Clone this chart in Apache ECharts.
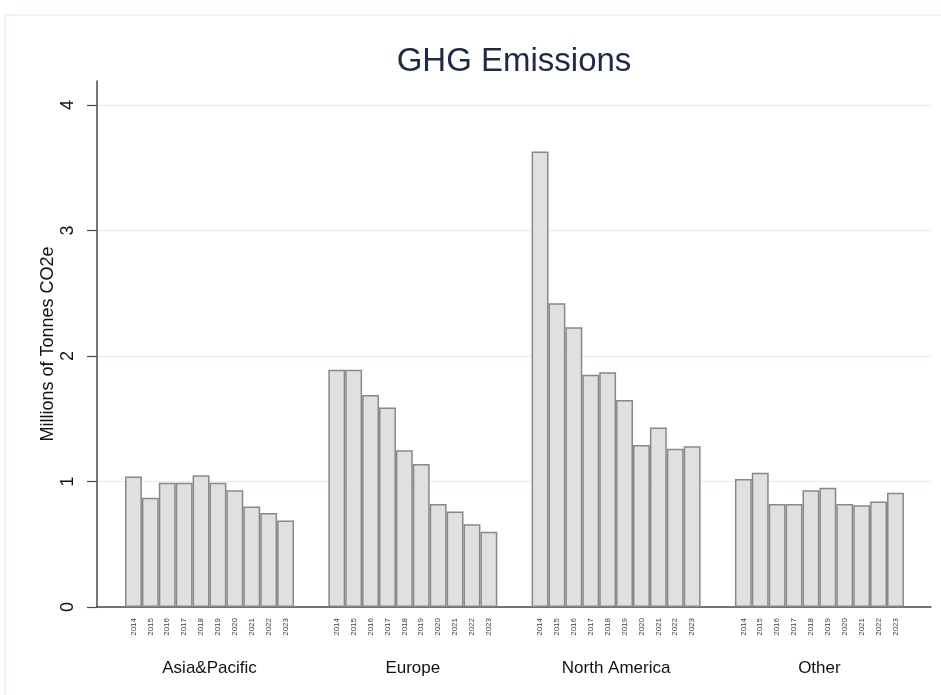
<!DOCTYPE html>
<html>
<head>
<meta charset="utf-8">
<script src="https://cdn.jsdelivr.net/npm/echarts@6/dist/echarts.min.js"></script>
<style>
html,body{margin:0;padding:0;background:#fff;}
#chart{width:941px;height:695px;}
</style>
</head>
<body>
<div id="chart"></div>
<script>
// ---- data ----
var years = ['2014','2015','2016','2017','2018','2019','2020','2021','2022','2023'];
var groups = ['Asia&Pacific','Europe','North America','Other'];
var asiaPacific  = [1.04, 0.87, 0.99, 0.99, 1.05, 0.99, 0.93, 0.80, 0.75, 0.69];
var europe       = [1.89, 1.89, 1.69, 1.59, 1.25, 1.14, 0.82, 0.76, 0.66, 0.60];
var northAmerica = [3.63, 2.42, 2.23, 1.85, 1.87, 1.65, 1.29, 1.43, 1.26, 1.28];
var other        = [1.02, 1.07, 0.82, 0.82, 0.93, 0.95, 0.82, 0.81, 0.84, 0.91];
var yTicks = [0, 1, 2, 3, 4];
var titleText = 'GHG Emissions';
var yAxisTitle = 'Millions of Tonnes CO2e';

var groupValues = [asiaPacific, europe, northAmerica, other];

// ---- layout ----
var FONT = '"Liberation Sans", Arial, sans-serif';
var plotLeft = 97, plotRight = 10, plotTop = 105, plotBottom = 88, axisTop = 81;
var groupStart = 125, groupStep = 203.3, groupWidth = 169;

var grids = [
  {left: plotLeft, right: plotRight, top: plotTop, bottom: plotBottom},
  {left: plotLeft, right: plotRight, top: axisTop, bottom: plotBottom}
];
var xAxes = [
  {gridIndex: 0, type: 'category', data: [''], axisLine: {show: true, lineStyle: {color: '#4a4a4a', width: 1.5}},
   axisTick: {show: false}, axisLabel: {show: false}, splitLine: {show: false}},
  {gridIndex: 1, type: 'category', data: [''], show: false}
];
var yAxes = [
  {gridIndex: 0, type: 'value', min: yTicks[0], max: yTicks[yTicks.length-1], interval: 1,
   axisLine: {show: false},
   axisTick: {show: true, length: 10, lineStyle: {color: '#4a4a4a', width: 1.2}},
   axisLabel: {rotate: 90, fontSize: 18, color: '#111', fontFamily: FONT, margin: 20},
   splitLine: {show: true, lineStyle: {color: '#e3eef0', width: 1.2}}},
  {gridIndex: 1, type: 'value', min: 0, max: 1,
   axisLine: {show: true, lineStyle: {color: '#4a4a4a', width: 1.5}},
   axisTick: {show: false}, axisLabel: {show: false}, splitLine: {show: false},
   name: yAxisTitle, nameLocation: 'middle', nameGap: 40, nameRotate: 90,
   nameTextStyle: {fontSize: 18, color: '#111', fontFamily: FONT}}
];
var series = [];
groups.forEach(function(g, i){
  var gi = i + 2;
  grids.push({left: groupStart + i*groupStep, width: groupWidth, top: plotTop, bottom: plotBottom});
  xAxes.push({gridIndex: gi, type: 'category', data: years,
    axisLine: {show: false}, axisTick: {show: false},
    axisLabel: {rotate: 90, fontSize: 8, color: '#4a4038', fontFamily: FONT, margin: 11, interval: 0},
    name: g, nameLocation: 'middle', nameGap: 53,
    nameTextStyle: {fontSize: 17, color: '#111', fontFamily: FONT}});
  yAxes.push({gridIndex: gi, type: 'value', min: yTicks[0], max: yTicks[yTicks.length-1], show: false});
  series.push({type: 'bar', xAxisIndex: gi, yAxisIndex: gi, data: groupValues[i],
    barCategoryGap: '0%', barGap: '0%',
    itemStyle: {color: '#e0e0e0', borderColor: '#888888', borderWidth: 1.5},
    emphasis: {disabled: true}});
});

var chart = echarts.init(document.getElementById('chart'), null, {renderer: 'canvas'});
chart.setOption({
  animation: false,
  backgroundColor: '#ffffff',
  title: {text: titleText, left: 509, top: 40, textAlign: 'center',
    textStyle: {fontSize: 33, fontWeight: 'normal', color: '#1c2a48', fontFamily: FONT}},
  graphic: [{type: 'rect', shape: {x: 5, y: 15, width: 960, height: 700},
    style: {fill: 'none', stroke: '#e8f0f0', lineWidth: 1.5}, silent: true, z: -10}],
  grid: grids,
  xAxis: xAxes,
  yAxis: yAxes,
  series: series
});
</script>
</body>
</html>
